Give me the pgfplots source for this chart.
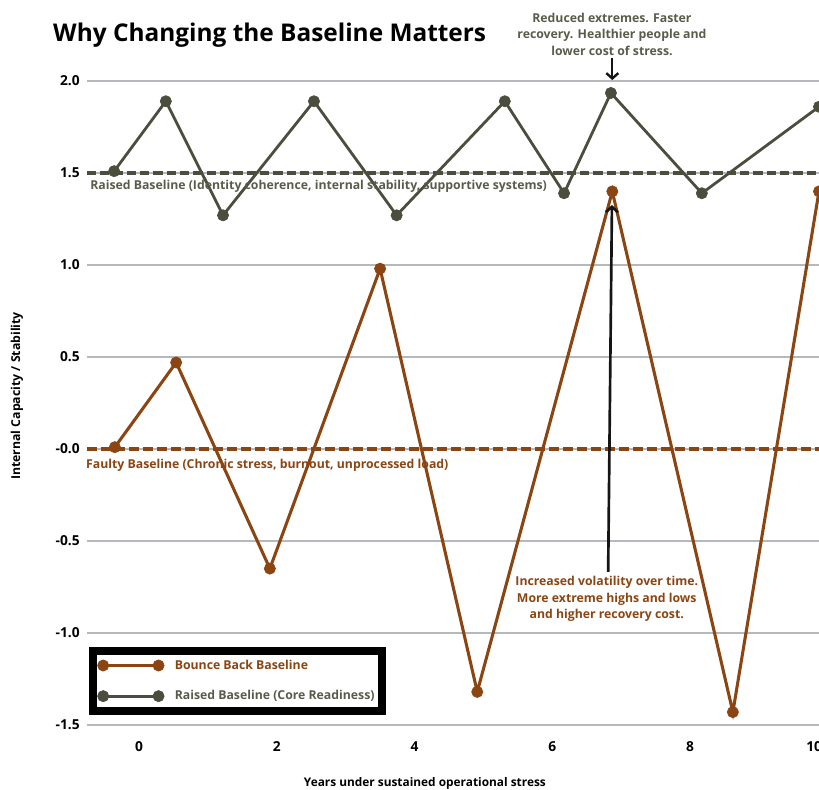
\documentclass[border=0pt]{standalone}
\usepackage{fontspec}
\setmainfont{Open Sans}
\usepackage{pgfplots}
\pgfplotsset{compat=1.18}
\usetikzlibrary{arrows.meta}
\definecolor{brn}{HTML}{8B4513}
\definecolor{olv}{HTML}{4B4D3D}
\definecolor{olvtxt}{HTML}{5A5B4B}
\definecolor{gridc}{HTML}{B5B9BD}
\definecolor{arr}{HTML}{151515}
\newcommand\ann{\fontsize{9.2}{12.4}\selectfont\bfseries}
\begin{document}
\begin{tikzpicture}
\begin{axis}[
  scale only axis, width=549.3pt, height=496.8pt,
  xmin=-0.76, xmax=9.87, ymin=-1.5, ymax=2.1,
  axis line style={draw=none}, major tick length=0pt,
  xtick={0,2,4,6,8}, xticklabels={0,2,4,6,8},
  ytick={-1.5,-1,-0.5,0,0.5,1,1.5,2},
  yticklabels={-1.5,-1.0,-0.5,-0.0,0.5,1.0,1.5,2.0},
  ymajorgrids, grid style={color=gridc, line width=0.8pt},
  tick label style={font=\fontsize{10.3}{12}\selectfont\bfseries, text=black},
  yticklabel style={inner xsep=0pt, xshift=-5pt},
  xticklabel style={inner ysep=0pt, yshift=-12pt},
  clip=false,
  legend image code/.code={\draw[#1] plot coordinates {(0pt,0pt) (41.5pt,0pt)};},
  legend style={at={(0.0032,0.1185)}, anchor=north west, draw=black, line width=6pt,
    fill=white, inner xsep=3.5pt, inner ysep=5pt, row sep=10.5pt,
    font=\fontsize{9.2}{11}\selectfont\bfseries,
    /tikz/every odd column/.append style={column sep=6pt}},
  legend cell align=left,
]
% baselines
\addplot[forget plot, brn, line width=3pt, dash pattern=on 7.5pt off 3pt] coordinates {(-0.76,0) (9.87,0)};
\addplot[forget plot, olv, line width=3pt, dash pattern=on 7pt off 3pt] coordinates {(-0.76,1.5) (9.87,1.5)};
% series
\addplot[brn, line width=2.3pt, mark=*, mark size=4.2pt, mark options={line width=0.5pt, fill=brn}] coordinates {
(-0.35,0.01) (0.54,0.47) (1.90,-0.65) (3.50,0.98) (4.91,-1.32) (6.87,1.40) (8.62,-1.43) (9.87,1.40)};
\addlegendentry{\textcolor{brn}{Bounce Back Baseline}}
\addplot[olv, line width=2.1pt, mark=*, mark size=4.2pt, mark options={line width=0.5pt, fill=olv}] coordinates {
(-0.36,1.51) (0.39,1.89) (1.22,1.27) (2.54,1.89) (3.74,1.27) (5.31,1.89) (6.17,1.39) (6.85,1.935) (8.17,1.39) (9.87,1.86)};
\addlegendentry{\textcolor{olvtxt}{Raised Baseline (Core Readiness)}}
% baseline labels
\node[anchor=west, inner sep=0pt, text=olvtxt, font=\ann] at (axis cs:-0.71,1.425) {Raised Baseline (Identity coherence, internal stability, supportive systems)};
\node[anchor=west, inner sep=0pt, text=brn, font=\ann] at (axis cs:-0.77,-0.087) {Faulty Baseline (Chronic stress, burnout, unprocessed load)};
% annotations
\node[align=center, inner sep=0pt, text=olvtxt, font=\ann] at (axis cs:6.865,2.255) {Reduced extremes. Faster\\recovery. Healthier people and\\lower cost of stress.};
\draw[arr, line width=1.8pt, -{Straight Barb[length=4pt,width=9pt]}] (axis cs:6.87,2.125) -- (axis cs:6.87,2.005);
\node[align=center, inner sep=0pt, text=brn, font=\ann] at (axis cs:6.79,-0.815) {Increased volatility over time.\\More extreme highs and lows\\and higher recovery cost.};
\draw[arr, line width=2pt, -{Straight Barb[length=4pt,width=9pt]}] (axis cs:6.81,-0.668) -- (axis cs:6.865,1.326);
% title, labels
\node[anchor=base west, inner sep=0pt, font=\fontsize{18.3}{22}\selectfont\bfseries] at (axis cs:-1.248,2.217) {Why Changing the Baseline Matters};
\node[rotate=90, inner sep=0pt, font=\fontsize{9.2}{11}\selectfont\bfseries] at (axis cs:-1.77,0.288) {Internal Capacity / Stability};
\node[inner sep=0pt, font=\fontsize{8.9}{11}\selectfont\bfseries] at (axis cs:4.15,-1.815) {Years under sustained operational stress};
\node[anchor=north, inner sep=0pt, yshift=-12pt, font=\fontsize{10.3}{12}\selectfont\bfseries] at (axis cs:9.8,-1.5) {10};
\end{axis}
\pgfresetboundingbox
\path[use as bounding box] (-64.95pt,-48.75pt) rectangle (549.3pt,543.75pt);
\end{tikzpicture}
\end{document}
